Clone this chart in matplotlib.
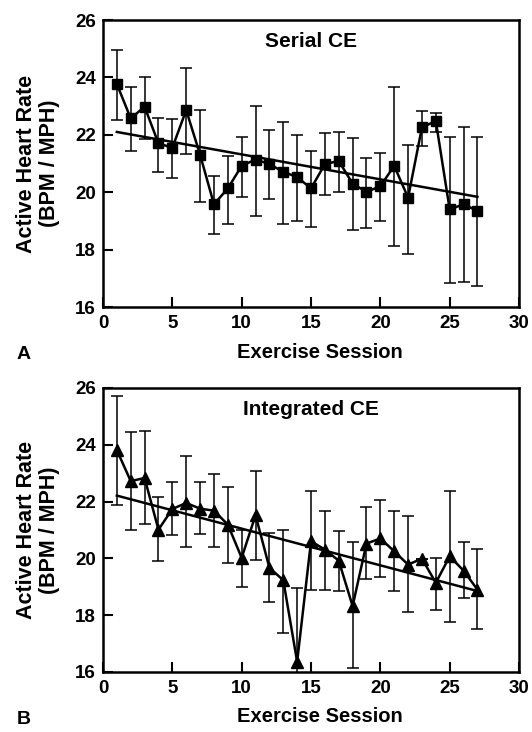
import numpy as np
import matplotlib.pyplot as plt

plt.rcParams['font.family'] = ['Liberation Sans', 'DejaVu Sans']
plt.rcParams['font.weight'] = 'bold'

sessions = list(range(1, 28))

# panel A - Serial CE
serial_mean = [23.77, 22.57, 22.98, 21.70, 21.55, 22.86, 21.31, 19.58, 20.13, 20.92,
               21.14, 20.98, 20.71, 20.53, 20.13, 20.98, 21.09, 20.30, 20.01, 20.21,
               20.92, 19.81, 22.26, 22.48, 19.40, 19.58, 19.35]
serial_top = [24.95, 23.67, 24.00, 22.60, 22.56, 24.34, 22.88, 20.57, 21.27, 21.93,
              23.00, 22.16, 22.43, 21.99, 21.44, 22.05, 22.10, 21.90, 21.20, 21.38,
              23.67, 21.66, 22.84, 22.77, 21.93, 22.28, 21.93]
serial_bot = [22.51, 21.44, 21.84, 20.71, 20.51, 21.33, 19.66, 18.56, 18.88, 19.84,
              19.16, 19.78, 18.88, 19.00, 18.79, 19.90, 20.01, 18.67, 18.77, 19.00,
              18.12, 17.83, 21.62, 22.10, 16.84, 16.87, 16.72]
serial_fit = [22.10, 19.84]

# panel B - Integrated CE
integ_mean = [23.81, 22.72, 22.83, 21.01, 21.74, 21.95, 21.75, 21.68, 21.19, 20.02,
              21.52, 19.67, 19.23, 16.36, 20.60, 20.31, 19.92, 18.32, 20.52, 20.70,
              20.25, 19.78, 19.99, 19.14, 20.07, 19.57, 18.90]
integ_top = [25.73, 24.44, 24.49, 22.15, 22.69, 23.59, 22.69, 22.98, 22.53, 20.99,
             23.08, 20.89, 21.01, 18.94, 22.36, 21.66, 20.95, 20.57, 21.81, 22.07,
             21.66, 21.48, 19.99, 20.02, 22.36, 20.57, 20.34]
integ_bot = [21.87, 21.01, 21.21, 19.90, 20.81, 20.40, 20.87, 20.40, 19.84, 19.00,
             19.96, 18.46, 17.38, 13.80, 18.90, 18.90, 18.85, 16.15, 19.29, 19.34,
             18.85, 18.11, 19.99, 18.18, 17.77, 18.61, 17.50]
integ_fit = [22.21, 18.85]

fig = plt.figure(figsize=(5.32, 7.32), dpi=100)
ax1 = fig.add_axes([0.1936, 0.5806, 0.782, 0.392])
ax2 = fig.add_axes([0.1936, 0.082, 0.782, 0.388])


def panel(ax, mean, top, bot, fit, marker, ms, title, letter):
    mean = np.array(mean)
    yerr = [mean - np.array(bot), np.array(top) - mean]
    ax.errorbar(sessions, mean, yerr=yerr, fmt='none', ecolor='black',
                elinewidth=1.1, capsize=4, capthick=1.1, zorder=2)
    ax.plot(sessions, mean, color='black', lw=1.8, marker=marker, ms=ms,
            mfc='black', mec='black', zorder=3)
    ax.plot([sessions[0], sessions[-1]], fit, color='black', lw=1.8, zorder=2)
    ax.set_xlim(0, 30)
    ax.set_ylim(16, 26)
    ax.set_xticks([0, 5, 10, 15, 20, 25, 30])
    ax.set_yticks([16, 18, 20, 22, 24, 26])
    ax.tick_params(direction='in', length=7, width=1.5, labelsize=13.5, pad=5)
    ax.tick_params(axis='x', pad=6)
    for s in ax.spines.values():
        s.set_linewidth(1.8)
    ax.set_xlabel('Exercise Session', fontsize=14.5, fontweight='bold')
    ax.xaxis.set_label_coords(0.522, -0.125)
    ax.set_ylabel('Active Heart Rate\n(BPM / MPH)', fontsize=15.5,
                  fontweight='bold', linespacing=1.15)
    ax.yaxis.set_label_coords(-0.103, 0.5)
    ax.text(15, 25.25, title, ha='center', va='center', fontsize=15,
            fontweight='bold')
    ax.text(-0.19, -0.167, letter, transform=ax.transAxes, fontsize=14,
            fontweight='bold', ha='center', va='center')


panel(ax1, serial_mean, serial_top, serial_bot, serial_fit, 's', 7,
      'Serial CE', 'A')
panel(ax2, integ_mean, integ_top, integ_bot, integ_fit, '^', 8,
      'Integrated CE', 'B')

fig.savefig('out.png', dpi=100)
